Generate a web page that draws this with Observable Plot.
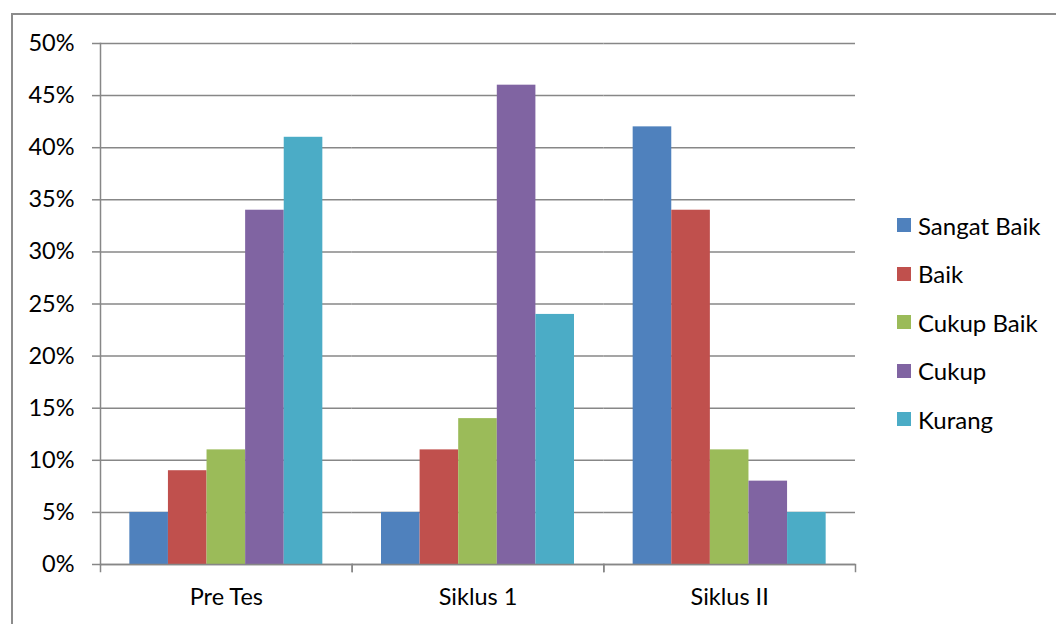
<!DOCTYPE html>
<html>
<head>
<meta charset="utf-8">
<script src="https://cdn.jsdelivr.net/npm/d3@7"></script>
<script src="https://cdn.jsdelivr.net/npm/@observablehq/plot@0.6"></script>
<style>
  html, body { margin: 0; padding: 0; overflow: hidden; background: #fff; }
  body { width: 1056px; height: 624px; position: relative; font-family: Lato, "Open Sans", sans-serif; }
  #frame { position: absolute; left: 11px; top: 13px; width: 1100px; height: 700px; border: 2px solid #8c8c8c; box-sizing: border-box; }
  #chart { position: absolute; left: 0; top: 0; }
  #legend { position: absolute; left: 897px; top: 201px; }
  .item { display: flex; align-items: center; height: 48.5px; font-size: 24px; color: #000; }
  .sw { width: 14px; height: 14px; margin-right: 7px; }
</style>
</head>
<body>
<div id="frame"></div>
<div id="chart"></div>
<div id="legend"></div>
<script>
const categories = ["Pre Tes", "Siklus 1", "Siklus II"];
const series = ["Sangat Baik", "Baik", "Cukup Baik", "Cukup", "Kurang"];
const preTes = [5, 9, 11, 34, 41];
const siklus1 = [5, 11, 14, 46, 24];
const siklus2 = [42, 34, 11, 8, 5];
const colors = ["#4F81BD", "#C0504D", "#9BBB59", "#8064A2", "#4BACC6"];
const yTicks = [0, 5, 10, 15, 20, 25, 30, 35, 40, 45, 50];

const valuesByCat = [preTes, siklus1, siklus2];
const table = [];
categories.forEach((c, i) => series.forEach((s, j) => table.push({cat: c, series: s, value: valuesByCat[i][j]})));

const gridColor = "#878787";
const plotH = 624 - 43 - 60;

const chart = Plot.plot({
  width: 880,
  height: 624,
  marginLeft: 100,
  marginRight: 25,
  marginTop: 43,
  marginBottom: 60,
  style: {fontFamily: "Lato, 'Open Sans', sans-serif", fontSize: "23.5px", color: "#000", background: "transparent"},
  fx: {domain: categories, padding: 0, label: null, round: false},
  x: {domain: series, paddingInner: 0, paddingOuter: 0.76, axis: null, round: false},
  y: {domain: [0, 50], label: null},
  color: {domain: series, range: colors},
  marks: [
    Plot.gridY(yTicks, {stroke: gridColor, strokeOpacity: 1, strokeWidth: 1.5}),
    Plot.barY(table, {fx: "cat", x: "series", y: "value", fill: "series"}),
    Plot.axisY(yTicks, {tickSize: 8, tickPadding: 18, tickFormat: d => d + "%", stroke: gridColor, strokeWidth: 1.5, fill: "#000", label: null}),
    Plot.axisFx({anchor: "bottom", tickSize: 0, tickPadding: 24, label: null, fill: "#000"}),
    Plot.ruleY([0], {stroke: gridColor, strokeWidth: 1.5}),
    Plot.frame({anchor: "left", insetTop: plotH, insetBottom: -7, stroke: gridColor, strokeWidth: 1.5}),
    Plot.frame({anchor: "right", insetTop: plotH, insetBottom: -7, stroke: gridColor, strokeWidth: 1.5}),
    Plot.frame({anchor: "left", facetAnchor: "left", stroke: gridColor, strokeWidth: 1.5})
  ]
});
document.getElementById("chart").appendChild(chart);

const legend = document.getElementById("legend");
series.forEach((s, j) => {
  const row = document.createElement("div");
  row.className = "item";
  const sw = document.createElement("span");
  sw.className = "sw";
  sw.style.background = colors[j];
  const t = document.createElement("span");
  t.textContent = s;
  row.appendChild(sw);
  row.appendChild(t);
  legend.appendChild(row);
});
</script>
</body>
</html>
